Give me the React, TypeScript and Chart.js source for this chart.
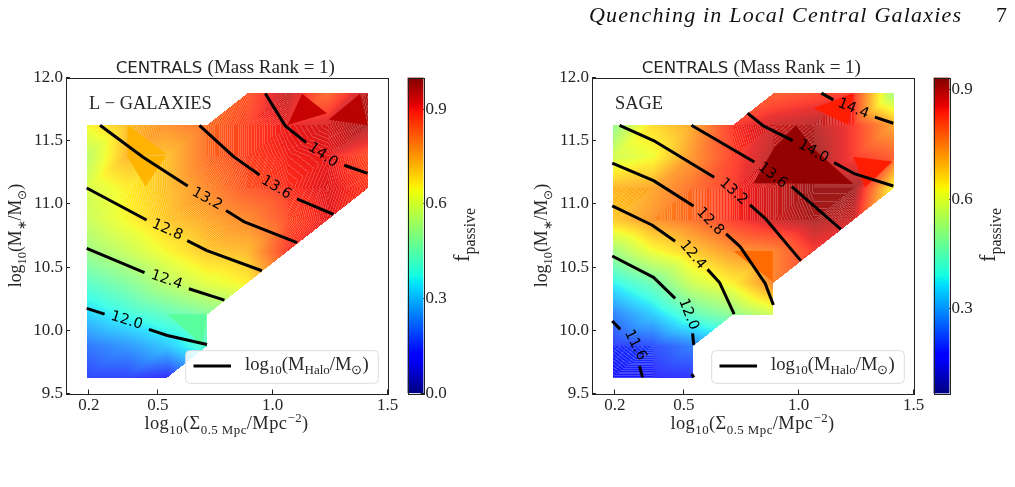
import React, { useEffect, useRef } from "react";
import { Chart, registerables } from "chart.js";

Chart.register(...registerables);

// ---------- data ----------
const X_NODES = [0.19, 0.365, 0.54, 0.715, 0.89, 1.065, 1.24, 1.415];
const Y_NODES = [11.875, 11.625, 11.375, 11.125, 10.875, 10.625, 10.375, 10.125, 9.875, 9.625];
const X_TICKS = [0.2, 0.5, 1.0, 1.5];
const Y_TICKS = [9.5, 10.0, 10.5, 11.0, 11.5, 12.0];
const CBAR_TICKS = [0.0, 0.3, 0.6, 0.9];

const N = null;
const LG_F_11875 = [N, N, N, N, 0.85, 0.95, 0.83, 0.96];
const LG_F_11625 = [0.65, 0.72, 0.78, 0.82, 0.87, 0.91, 0.93, 0.97];
const LG_F_11375 = [0.56, 0.73, 0.72, 0.82, 0.87, 0.90, 0.91, 0.86];
const LG_F_11125 = [0.60, 0.66, 0.72, 0.79, 0.85, 0.89, 0.92, 0.88];
const LG_F_10875 = [0.58, 0.65, 0.71, 0.75, 0.79, 0.86, 0.91, N];
const LG_F_10625 = [0.52, 0.58, 0.65, 0.71, 0.73, 0.89, N, N];
const LG_F_10375 = [0.42, 0.48, 0.56, 0.62, 0.66, N, N, N];
const LG_F_10125 = [0.32, 0.38, 0.43, 0.48, N, N, N, N];
const LG_F_9875 = [0.21, 0.25, 0.31, 0.42, N, N, N, N];
const LG_F_9625 = [0.15, 0.15, 0.12, N, N, N, N, N];

const SG_F_11875 = [N, N, N, N, 0.80, 0.82, 0.84, 0.52];
const SG_F_11625 = [0.50, 0.66, 0.72, 0.84, 0.88, 0.90, 0.84, 0.72];
const SG_F_11375 = [0.58, 0.62, 0.74, 0.83, 0.90, 0.92, 0.84, 0.80];
const SG_F_11125 = [0.70, 0.72, 0.78, 0.84, 0.88, 0.92, 0.92, 0.62];
const SG_F_10875 = [0.68, 0.74, 0.78, 0.84, 0.88, 0.91, 0.88, N];
const SG_F_10625 = [0.52, 0.62, 0.68, 0.74, 0.76, 0.84, N, N];
const SG_F_10375 = [0.38, 0.46, 0.58, 0.64, 0.76, N, N, N];
const SG_F_10125 = [0.26, 0.34, 0.44, 0.50, 0.58, N, N, N];
const SG_F_9875 = [0.19, 0.21, 0.26, N, N, N, N, N];
const SG_F_9625 = [0.17, 0.17, 0.18, N, N, N, N, N];

// flat facets of the surface: corner points [x, y] in data units, and their value
const LG_FACET_POINTS = [
  [[1.065, 11.625], [1.128, 11.871], [1.236, 11.718]],
  [[1.243, 11.665], [1.381, 11.871], [1.413, 11.625]],
  [[0.367, 11.625], [0.538, 11.395], [0.367, 11.374]],
  [[0.367, 11.374], [0.538, 11.38], [0.446, 11.137]],
  [[0.541, 10.126], [0.714, 10.126], [0.693, 9.883]],
];
const LG_FACET_VALUES = [0.94, 0.95, 0.72, 0.72, 0.46];
const SG_FACET_POINTS = [
  [[1.064, 11.757], [1.238, 11.876], [1.216, 11.625]],
  [[1.238, 11.374], [1.409, 11.335], [1.288, 11.13]],
  [[0.89, 11.434], [0.988, 11.625], [1.064, 11.44], [1.238, 11.158], [0.803, 11.163]],
  [[0.716, 10.627], [0.887, 10.627], [0.887, 10.385]],
];
const SG_FACET_VALUES = [0.83, 0.83, 0.92, 0.76];

// contour polylines, [x, y] in data units; null = gap left for the inline label
const LG_M120 = [[0.19, 10.173], [0.268, 10.128], N, [0.461, 10.007], [0.541, 9.959], [0.714, 9.888]];
const LG_M124 = [[0.19, 10.648], [0.442, 10.456], N, [0.635, 10.329], [0.79, 10.239]];
const LG_M128 = [[0.19, 11.126], [0.451, 10.873], N, [0.628, 10.709], [0.714, 10.63], [0.953, 10.471]];
const LG_M132 = [[0.248, 11.622], [0.436, 11.369], [0.63, 11.142], N, [0.797, 10.947], [0.874, 10.86], [1.106, 10.693]];
const LG_M136 = [[0.681, 11.622], [0.83, 11.374], [0.943, 11.229], N, [1.106, 11.039], [1.265, 10.918]];
const LG_M140 = [[0.968, 11.873], [1.055, 11.617], [1.146, 11.485], N, [1.312, 11.306], [1.413, 11.242]];

const SG_M116 = [[0.188, 10.073], [0.223, 10.007], N, [0.307, 9.716], [0.32, 9.627]];
const SG_M120 = [[0.188, 10.588], [0.368, 10.419], [0.462, 10.252], N, [0.538, 9.975], [0.543, 9.885], N, [0.534, 9.653], [0.544, 9.627]];
const SG_M124 = [[0.188, 10.984], [0.361, 10.833], [0.462, 10.704], N, [0.603, 10.482], [0.655, 10.379], [0.719, 10.128]];
const SG_M128 = [[0.188, 11.322], [0.368, 11.184], [0.542, 10.984], N, [0.684, 10.762], [0.745, 10.662], [0.854, 10.371], [0.89, 10.2]];
const SG_M132 = [[0.22, 11.622], [0.368, 11.501], [0.632, 11.211], N, [0.788, 10.992], [0.854, 10.886], [1.009, 10.551]];
const SG_M136 = [[0.533, 11.622], [0.807, 11.332], N, [0.97, 11.137], [1.184, 10.799]];
const SG_M140 = [[0.777, 11.718], [0.846, 11.617], [0.974, 11.501], N, [1.154, 11.327], [1.245, 11.237], [1.412, 11.142]];
const SG_M144 = [[1.099, 11.876], [1.151, 11.823], N, [1.332, 11.686], [1.412, 11.638]];

// inline contour labels: text, x, y (data units)
const LG_LABELS: [string, number, number][] = [
  ["12.0", 0.364, 10.076], ["12.4", 0.538, 10.398], ["12.8", 0.541, 10.794],
  ["13.2", 0.714, 11.039], ["13.6", 1.016, 11.129], ["14.0", 1.219, 11.385],
];
const SG_LABELS: [string, number, number][] = [
  ["11.6", 0.288, 9.883], ["12.0", 0.52, 10.126], ["12.4", 0.539, 10.596], ["12.8", 0.614, 10.86],
  ["13.2", 0.716, 11.097], ["13.6", 0.886, 11.224], ["14.0", 1.064, 11.414], ["14.4", 1.238, 11.752],
];
const LG_LABEL_ANGLES = [17, 19, 24, 29, 31, 35];
const SG_LABEL_ANGLES = [63, 68, 50, 46, 42, 38, 30, 22];

// ---------- styling / layout ----------
const SERIF = '"Liberation Serif", serif';
const SANS = '"DejaVu Sans", sans-serif';
const INK = "#262626";
const TOP = 77.5;
const BOTTOM = 393.5;
const H = 487;
const LEVELS = 380;

const JET_T = [0, 0.11, 0.125, 0.34, 0.35, 0.375, 0.64, 0.65, 0.66, 0.89, 0.91, 1];
function lerpStops(t: number, xs: number[], ys: number[]) {
  if (t <= xs[0]) return ys[0];
  for (let i = 1; i < xs.length; i++) {
    if (t <= xs[i]) return ys[i - 1] + ((t - xs[i - 1]) / (xs[i] - xs[i - 1])) * (ys[i] - ys[i - 1]);
  }
  return ys[ys.length - 1];
}
function jet(t: number): [number, number, number] {
  const r = lerpStops(t, [0.35, 0.66, 0.89, 1], [0, 1, 1, 0.5]);
  const g = lerpStops(t, [0.125, 0.375, 0.64, 0.91], [0, 1, 1, 0]);
  const b = lerpStops(t, [0, 0.11, 0.34, 0.65], [0.5, 1, 1, 0]);
  return [r * 255, g * 255, b * 255];
}

type Seg = { t: string; k?: "sub" | "sup" | "sans"; size?: number };
function segFont(s: Seg, size: number) {
  const z = s.size ?? size;
  if (s.k === "sub" || s.k === "sup") return `${z * 0.7}px ${SERIF}`;
  if (s.k === "sans") return `${z}px ${SANS}`;
  return `${z}px ${SERIF}`;
}
function drawRich(ctx: any, segs: Seg[], x: number, y: number, size: number, align: "left" | "center", rot = 0, spacing = 0) {
  ctx.save();
  ctx.translate(x, y);
  ctx.rotate(rot);
  ctx.fillStyle = INK;
  ctx.textAlign = "left";
  ctx.textBaseline = "alphabetic";
  ctx.letterSpacing = `${spacing}px`;
  let total = 0;
  for (const s of segs) { ctx.font = segFont(s, size); total += ctx.measureText(s.t).width; }
  let px = align === "center" ? -total / 2 : 0;
  for (const s of segs) {
    ctx.font = segFont(s, size);
    const dy = s.k === "sub" ? size * 0.26 : s.k === "sup" ? -size * 0.38 : 0;
    ctx.fillText(s.t, px, dy);
    px += ctx.measureText(s.t).width;
  }
  ctx.restore();
}

const XLABEL: Seg[] = [{ t: "log" }, { t: "10", k: "sub" }, { t: "(Σ" }, { t: "0.5 Mpc", k: "sub" }, { t: "/Mpc" }, { t: "−2", k: "sup" }, { t: ")" }];
const YLABEL: Seg[] = [{ t: "log" }, { t: "10", k: "sub" }, { t: "(M" }, { t: "∗", k: "sub" }, { t: "/M" }, { t: "⊙", k: "sub" }, { t: ")" }];
const LEGEND: Seg[] = [{ t: "log" }, { t: "10", k: "sub" }, { t: "(M" }, { t: "Halo", k: "sub" }, { t: "/M" }, { t: "⊙", k: "sub" }, { t: ")" }];
const TITLE: Seg[] = [{ t: "CENTRALS ", k: "sans", size: 16.6 }, { t: "(Mass Rank = 1)", size: 19 }];
const FPASS: Seg[] = [{ t: "f" }, { t: "passive", k: "sub" }];

function surfacePlugin(grid: (number | null)[][], vmin: number, vmax: number, facets: number[][][], facetValues: number[]) {
  return {
    id: "surface",
    beforeDatasetsDraw(chart: any) {
      const sx = chart.scales.x, sy = chart.scales.y;
      const W = chart.width, HH = chart.height;
      const off = document.createElement("canvas");
      off.width = W; off.height = HH;
      const octx = off.getContext("2d")!;
      const img = octx.createImageData(W, HH);
      const tri = (a: number[], b: number[], c: number[]) => {
        const d = (b[1] - c[1]) * (a[0] - c[0]) + (c[0] - b[0]) * (a[1] - c[1]);
        // gradient of t per pixel decides how far apart the contourf band seams fall
        const gx = ((b[1] - c[1]) * a[2] + (c[1] - a[1]) * b[2] + (a[1] - b[1]) * c[2]) / d;
        const gy = ((c[0] - b[0]) * a[2] + (a[0] - c[0]) * b[2] + (b[0] - a[0]) * c[2]) / d;
        const spacing = 1 / (Math.hypot(gx, gy) / (vmax - vmin) * LEVELS + 1e-9);
        const x0 = Math.floor(Math.min(a[0], b[0], c[0])), x1 = Math.ceil(Math.max(a[0], b[0], c[0]));
        const y0 = Math.floor(Math.min(a[1], b[1], c[1])), y1 = Math.ceil(Math.max(a[1], b[1], c[1]));
        for (let py = y0; py <= y1; py++) for (let px = x0; px <= x1; px++) {
          const qx = px + 0.5, qy = py + 0.5;
          const l1 = ((b[1] - c[1]) * (qx - c[0]) + (c[0] - b[0]) * (qy - c[1])) / d;
          const l2 = ((c[1] - a[1]) * (qx - c[0]) + (a[0] - c[0]) * (qy - c[1])) / d;
          const l3 = 1 - l1 - l2;
          if (l1 < -1e-6 || l2 < -1e-6 || l3 < -1e-6) continue;
          const v = l1 * a[2] + l2 * b[2] + l3 * c[2];
          const t = (v - vmin) / (vmax - vmin);
          const [r, g, bl] = jet(t);
          let alpha = 0.8;
          if (spacing >= 1.5) {
            const phase = t * LEVELS - Math.floor(t * LEVELS);
            alpha = phase < 0.9 / spacing ? 0.72 : 0.9;
          }
          const i = (py * W + px) * 4;
          img.data[i] = r; img.data[i + 1] = g; img.data[i + 2] = bl;
          img.data[i + 3] = 255 * alpha;
        }
      };
      const node = (r: number, c: number) => {
        const v = grid[r][c];
        return v === null ? null : [sx.getPixelForValue(X_NODES[c]), sy.getPixelForValue(Y_NODES[r]), v];
      };
      for (let r = 0; r < grid.length - 1; r++) for (let c = 0; c < X_NODES.length - 1; c++) {
        const tl = node(r, c), tr = node(r, c + 1), bl = node(r + 1, c), br = node(r + 1, c + 1);
        if (bl && tr && tl) tri(bl, tr, tl);
        if (bl && br && tr) tri(bl, br, tr);
      }
      octx.putImageData(img, 0, 0);
      const ctx = chart.ctx;
      ctx.drawImage(off, 0, 0);
      facets.forEach((pts, i) => {
        const [r, g, b] = jet((facetValues[i] - vmin) / (vmax - vmin));
        ctx.beginPath();
        pts.forEach((p, j) => {
          const X = sx.getPixelForValue(p[0]), Y = sy.getPixelForValue(p[1]);
          if (j === 0) ctx.moveTo(X, Y); else ctx.lineTo(X, Y);
        });
        ctx.closePath();
        ctx.fillStyle = `rgba(${r},${g},${b},0.95)`;
        ctx.fill();
      });
    },
  };
}

function overlayPlugin(name: string, labels: [string, number, number][], angles: number[], dx: number) {
  return {
    id: "overlay",
    afterDatasetsDraw(chart: any) {
      const ctx: CanvasRenderingContext2D = chart.ctx;
      const { left, right, top, bottom } = chart.chartArea;
      const sx = chart.scales.x, sy = chart.scales.y;
      labels.forEach(([t, x, y], i) => {
        ctx.save();
        ctx.translate(sx.getPixelForValue(x), sy.getPixelForValue(y));
        ctx.rotate((angles[i] * Math.PI) / 180);
        ctx.font = `14.5px ${SANS}`;
        ctx.fillStyle = "#000";
        ctx.textAlign = "center";
        ctx.textBaseline = "middle";
        ctx.fillText(t, 0, 0);
        ctx.restore();
      });
      // frame
      ctx.strokeStyle = "#222";
      ctx.lineWidth = 1;
      ctx.strokeRect(Math.round(left) + 0.5, Math.round(top) + 0.5, Math.round(right - left), Math.round(bottom - top));
      // panel name
      ctx.font = `18.4px ${SERIF}`;
      ctx.fillStyle = INK;
      ctx.textAlign = "left";
      ctx.textBaseline = "alphabetic";
      ctx.fillText(name, 89 + dx, 109);
      // legend
      const lx = 185.7 + dx, ly = 350.7, lw = 192.6, lh = 32.6;
      ctx.beginPath();
      ctx.roundRect(lx, ly, lw, lh, 4);
      ctx.fillStyle = "rgba(255,255,255,0.85)";
      ctx.fill();
      ctx.strokeStyle = "#dcdcdc";
      ctx.stroke();
      ctx.beginPath();
      ctx.moveTo(193.5 + dx, 366);
      ctx.lineTo(231 + dx, 366);
      ctx.strokeStyle = "#000";
      ctx.lineWidth = 3;
      ctx.stroke();
      drawRich(ctx, LEGEND, 245 + dx, 369.5, 18.6, "left");
      // title and axis names
      drawRich(ctx, TITLE, 115.7 + dx, 72.7, 18, "left");
      drawRich(ctx, XLABEL, 226.5 + dx, 429, 18.4, "center", 0, 0.45);
      drawRich(ctx, YLABEL, 21 + dx, 235.5, 17.8, "center", -Math.PI / 2);
    },
  };
}

function panelConfig(series: any[][], grid: (number | null)[][], vmin: number, vmax: number, name: string,
  labels: [string, number, number][], angles: number[], dx: number, facets: number[][][], facetValues: number[]) {
  const plotLeft = 66, plotRight = 387.5, cw = 412;
  const f = (v: any) => Number(v).toFixed(1);
  return {
    type: "scatter",
    data: {
      datasets: series.map((s) => ({
        data: s.map((p) => (p ? { x: p[0], y: p[1] } : { x: null, y: null })),
        showLine: true,
        borderColor: "#000",
        borderWidth: 3,
        pointRadius: 0,
        spanGaps: false,
        tension: 0,
        borderCapStyle: "butt",
        borderJoinStyle: "round",
      })),
    },
    options: {
      responsive: false,
      animation: false,
      devicePixelRatio: 1,
      layout: { padding: { left: 0, right: cw - plotRight, top: TOP, bottom: 0 } },
      plugins: { legend: { display: false }, tooltip: { enabled: false } },
      events: [],
      scales: {
        x: {
          type: "linear", min: 0.1, max: 1.5,
          afterBuildTicks: (s: any) => { s.ticks = X_TICKS.map((value) => ({ value })); },
          afterFit: (s: any) => { s.height = H - BOTTOM; },
          grid: { drawOnChartArea: false, tickLength: -4, tickColor: "#222", tickWidth: 1 },
          border: { display: false },
          ticks: { padding: 6, color: INK, font: { family: SERIF, size: 17 }, callback: f, maxRotation: 0, autoSkip: false },
        },
        y: {
          type: "linear", min: 9.5, max: 12,
          afterBuildTicks: (s: any) => { s.ticks = Y_TICKS.map((value) => ({ value })); },
          afterFit: (s: any) => { s.width = plotLeft; },
          grid: { drawOnChartArea: false, tickLength: -4, tickColor: "#222", tickWidth: 1 },
          border: { display: false },
          ticks: { padding: 7, color: INK, font: { family: SERIF, size: 17 }, callback: f, autoSkip: false },
        },
      },
    },
    plugins: [surfacePlugin(grid, vmin, vmax, facets, facetValues), overlayPlugin(name, labels, angles, dx)],
  };
}

function cbarConfig(vmin: number, vmax: number, ticks: number[]) {
  const barLeft = 7.5, barRight = 23.5, cw = 80;
  return {
    type: "bar",
    data: {
      labels: ["fpassive"],
      datasets: [{
        data: [[vmin, vmax]],
        barPercentage: 1,
        categoryPercentage: 1,
        borderWidth: 0,
        backgroundColor: (c: any) => {
          const area = c.chart.chartArea;
          if (!area) return "#888";
          const g = c.chart.ctx.createLinearGradient(0, area.bottom, 0, area.top);
          JET_T.forEach((t) => {
            const [r, gg, b] = jet(t);
            g.addColorStop(t, `rgb(${r},${gg},${b})`);
          });
          return g;
        },
      }],
    },
    options: {
      responsive: false,
      animation: false,
      devicePixelRatio: 1,
      events: [],
      layout: { padding: { left: barLeft, right: 0, top: TOP, bottom: H - BOTTOM } },
      plugins: { legend: { display: false }, tooltip: { enabled: false } },
      scales: {
        x: { display: false },
        y: {
          type: "linear", position: "right", min: vmin, max: vmax,
          afterBuildTicks: (s: any) => { s.ticks = ticks.map((value) => ({ value })); },
          afterFit: (s: any) => { s.width = cw - barRight; },
          grid: { drawOnChartArea: false, tickLength: -3, tickColor: "#222", tickWidth: 1 },
          border: { display: false },
          ticks: { padding: 5, color: INK, font: { family: SERIF, size: 17 }, callback: (v: any) => Number(v).toFixed(1), autoSkip: false },
        },
      },
    },
    plugins: [{
      id: "cbarFrame",
      afterDraw(chart: any) {
        const ctx = chart.ctx;
        const { left, right, top, bottom } = chart.chartArea;
        ctx.strokeStyle = "#222";
        ctx.lineWidth = 1;
        ctx.strokeRect(Math.round(left) + 0.5, Math.round(top) + 0.5, Math.round(right - left), Math.round(bottom - top));
        drawRich(ctx, FPASS, 69, 235, 22.6, "center", -Math.PI / 2);
      },
    }],
  };
}

const LG_SERIES = [LG_M120, LG_M124, LG_M128, LG_M132, LG_M136, LG_M140];
const SG_SERIES = [SG_M116, SG_M120, SG_M124, SG_M128, SG_M132, SG_M136, SG_M140, SG_M144];
const LG_GRID = [LG_F_11875, LG_F_11625, LG_F_11375, LG_F_11125, LG_F_10875, LG_F_10625, LG_F_10375, LG_F_10125, LG_F_9875, LG_F_9625];
const SG_GRID = [SG_F_11875, SG_F_11625, SG_F_11375, SG_F_11125, SG_F_10875, SG_F_10625, SG_F_10375, SG_F_10125, SG_F_9875, SG_F_9625];

export default function App() {
  const a = useRef<HTMLCanvasElement>(null);
  const b = useRef<HTMLCanvasElement>(null);
  const c = useRef<HTMLCanvasElement>(null);
  const d = useRef<HTMLCanvasElement>(null);
  useEffect(() => {
    const charts = [
      new Chart(a.current!, panelConfig(LG_SERIES, LG_GRID, 0, 1, "L − GALAXIES", LG_LABELS, LG_LABEL_ANGLES, 0, LG_FACET_POINTS, LG_FACET_VALUES) as any),
      new Chart(b.current!, cbarConfig(0, 1, CBAR_TICKS) as any),
      new Chart(c.current!, panelConfig(SG_SERIES, SG_GRID, 0.067, 0.934, "SAGE", SG_LABELS, SG_LABEL_ANGLES, 0, SG_FACET_POINTS, SG_FACET_VALUES) as any),
      new Chart(d.current!, cbarConfig(0.067, 0.934, CBAR_TICKS.slice(1)) as any),
    ];
    return () => charts.forEach((x) => x.destroy());
  }, []);
  const abs = (left: number): React.CSSProperties => ({ position: "absolute", left, top: 0, display: "block" });
  return (
    <div style={{ position: "fixed", left: 0, top: 0, width: 1015, height: 487, background: "#fff", overflow: "hidden" }}>
      <canvas ref={a} width={412} height={H} style={abs(0)} />
      <canvas ref={b} width={80} height={H} style={abs(400)} />
      <canvas ref={c} width={412} height={H} style={abs(526)} />
      <canvas ref={d} width={80} height={H} style={abs(926)} />
      <div style={{ position: "absolute", left: 589, top: 2, font: `italic 22px ${SERIF}`, letterSpacing: 1.2, color: "#111", whiteSpace: "nowrap" }}>
        Quenching in Local Central Galaxies
      </div>
      <div style={{ position: "absolute", left: 996, top: 2, font: `22px ${SERIF}`, color: "#111" }}>7</div>
    </div>
  );
}
